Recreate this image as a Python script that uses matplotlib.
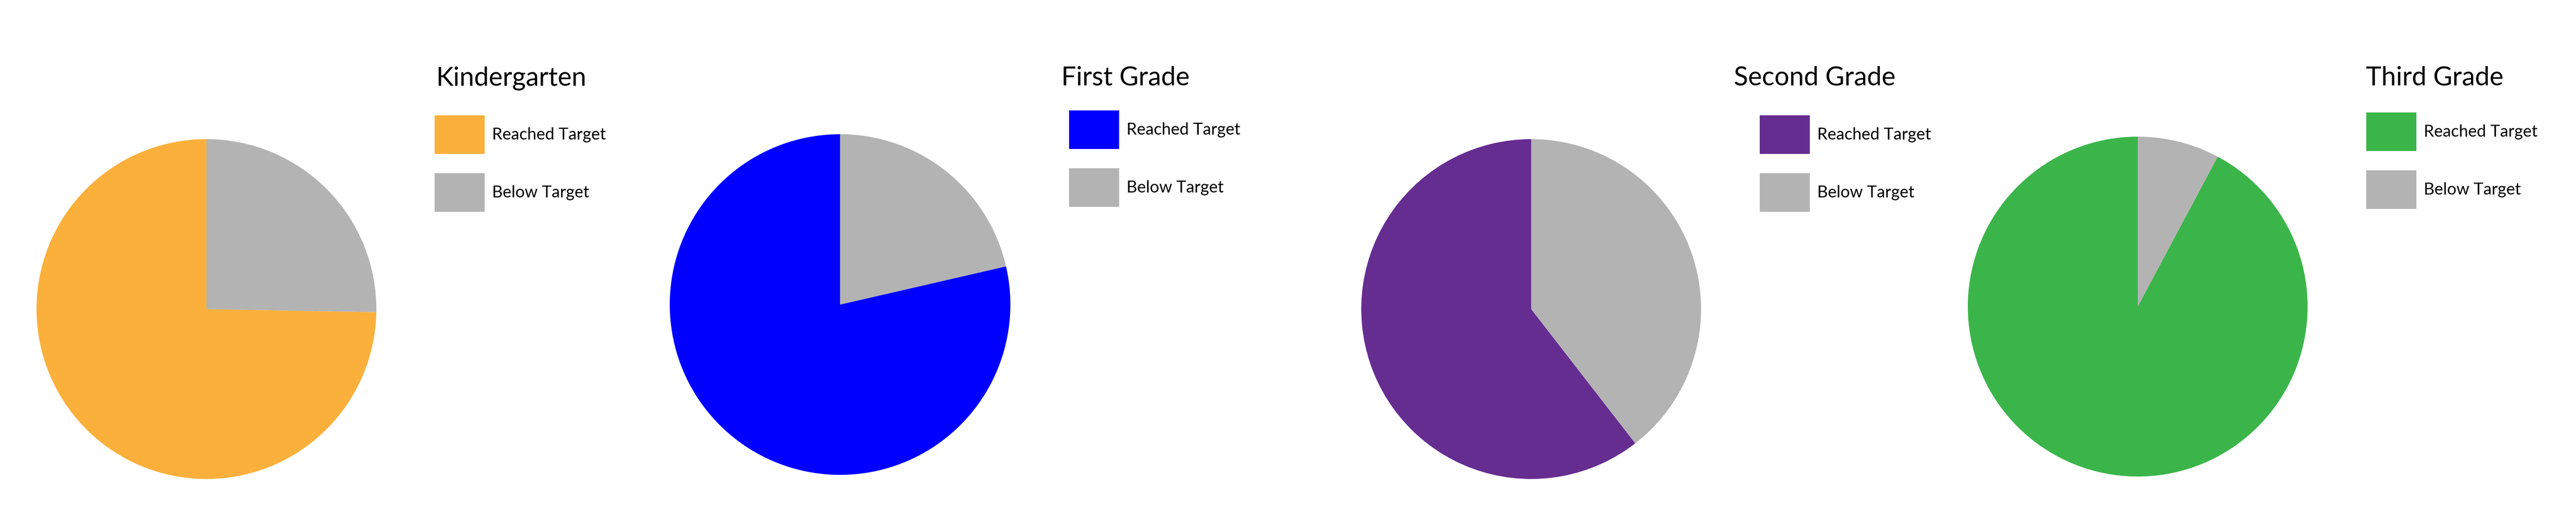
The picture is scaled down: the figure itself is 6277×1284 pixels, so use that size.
import matplotlib
matplotlib.use('Agg')
import matplotlib.pyplot as plt
from matplotlib.patches import Patch

plt.rcParams['font.family'] = ['Lato', 'DejaVu Sans']

# Data (percent of students)
grades = ['Kindergarten', 'First Grade', 'Second Grade', 'Third Grade']
reached = [74.7, 78.6, 60.5, 92.2]
below = [25.3, 21.4, 39.5, 7.8]
labels = ['Reached Target', 'Below Target']
grade_colors = ['#FBB03B', '#0000FF', '#662D91', '#3BB54A']
below_color = '#B3B3B3'

W, H = 6277, 1284
fig = plt.figure(figsize=(W / 100, H / 100), dpi=100)

# layout in pixels: pie centre / radius, title anchor, legend anchor
pie_pos = [(503, 753, 414), (2047, 742, 415), (3731, 753, 414), (5209, 747, 414)]
title_pos = [(1062, 208), (2586, 208), (4225, 208), (5765, 208)]
legend_pos = [(1059, 281), (2605, 269), (4288, 281), (5766, 274)]

label_fs = 29
for i, grade in enumerate(grades):
    cx, cy, r = pie_pos[i]
    ax = fig.add_axes([(cx - r) / W, 1 - (cy + r) / H, 2 * r / W, 2 * r / H])
    ax.pie([reached[i], below[i]], colors=[grade_colors[i], below_color],
           startangle=90, counterclock=True, radius=1,
           wedgeprops=dict(linewidth=0))
    ax.set_xlim(-1, 1)
    ax.set_ylim(-1, 1)
    ax.set_aspect('auto')
    ax.axis('off')

    tx, ty = title_pos[i]
    fig.text(tx / W, 1 - ty / H, grade, fontsize=46, va='baseline', ha='left')

    lx, ly = legend_pos[i]
    handles = [Patch(facecolor=grade_colors[i], edgecolor='none'),
               Patch(facecolor=below_color, edgecolor='none')]
    fig.legend(handles, labels, loc='upper left', bbox_to_anchor=(lx / W, 1 - ly / H),
               bbox_transform=fig.transFigure, frameon=False, borderpad=0,
               borderaxespad=0, fontsize=label_fs, handlelength=3.03,
               handleheight=3.21, labelspacing=1.17, handletextpad=0.45)

fig.savefig('out.png', dpi=100, facecolor='white')
